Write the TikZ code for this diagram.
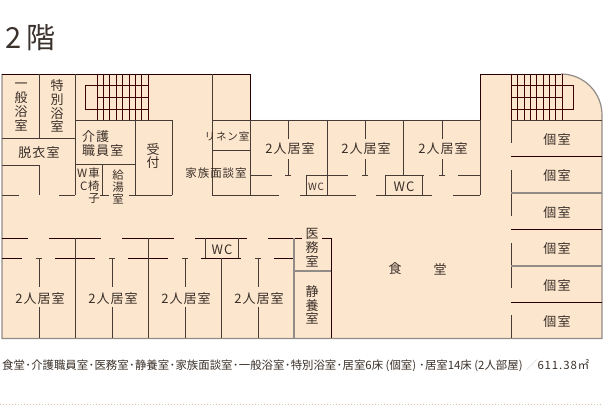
\documentclass[tikz,border=0pt]{standalone}
\usepackage{fontspec}
\setmainfont[LetterSpace=8]{Noto Sans CJK JP}
\newfontfamily\capfont{Noto Sans CJK JP}
\definecolor{floor}{HTML}{FDE6CE}
\definecolor{ink}{HTML}{4A3F38}
\definecolor{letter}{HTML}{3A3029}
\definecolor{dots}{HTML}{D8C8A0}
\tikzstyle{wall}=[line width=0.9,draw=ink!95!black]
\tikzstyle{dark wall}=[line width=0.9,draw=black!85!red]
\tikzstyle{grey wall}=[line width=1.2,draw=ink!60!white]
\tikzstyle{stair}=[line width=0.7,draw=black!75!red]
\tikzstyle{room}=[inner sep=0,yshift=-1pt,text=letter,align=center,font=\fontsize{13}{13.8}\selectfont]
\tikzstyle{small room}=[room,font=\fontsize{11.5}{12.4}\selectfont]
\def\dotsep{\hspace{0.3pt}･\hspace{0.3pt}}
\def\lpar{\hspace{2.5pt}(}
\def\rpar{)\hspace{2.5pt}}

\begin{document}
\begin{tikzpicture}[x=1pt,y=-1pt]
	\useasboundingbox (0,0) rectangle (603,411);
	\def\top{74}   % top edge
	\def\mid{120}  % top of the middle wing
	\def\bot{338.5} % bottom edge

	% Floor
	\path[fill=floor] (2,\top) -- (250,\top) -- (250,\mid) -- (480,\mid) -- (480,\top) -- (561,\top)
		arc(-90:0:41) -- (602,\bot) -- (2,\bot) -- cycle;
	\draw[grey wall] (2,\top) -- (2,\bot) -- (602,\bot) -- (602,115) arc(0:-90:41);
	\draw[wall] (250,\mid) -- (480,\mid) -- (480,195);
	\draw[dark wall] (2,\top) -- (250,\top) -- (250,\mid);
	\draw[dark wall] (480,\mid) -- (480,\top) -- (561,\top);

	% Stairs
	\foreach \x in {97,103,109,116,122,129,135,141,148}
		\draw[stair] (\x,\top) -- (\x,\mid);
	\foreach \x in {511,517,524,530,536,543,549,555,562}
		\draw[stair] (\x,\top) -- (\x,\mid);
	\draw[stair] (148,85) -- (85,85) -- (85,109) -- (148,109);
	\draw[stair] (97,97) -- (148,97);
	\draw[stair] (511,85) -- (573,85) -- (573,109) -- (511,109);
	\draw[stair] (511,97) -- (562,97);

	% Bath rooms and staff rooms
	\draw[wall] (39,\top) -- (39,138) (2,138) -- (75,138) (75,\top) -- (75,195);
	\draw[wall] (2,165) -- (39,165) -- (39,195) (2,195) -- (19,195) (59,195) -- (75,195);
	\draw[wall] (75,\mid) -- (172,\mid) -- (172,195) (135,\mid) -- (135,195);
	\draw[wall] (75,164) -- (135,164) (102,164) -- (102,195);
	\draw[wall] (100,195) -- (109,195) (129,195) -- (172,195);

	% Linen room
	\draw[wall] (212,\top) -- (212,195) (212,\mid) -- (250,\mid) (212,150) -- (250,150);
	\draw[wall] (250,\mid) -- (250,195) (212,195) -- (279,195);

	% Upper rooms
	\foreach \x in {288,365,442} {
		\draw[wall] (\x,\mid) -- (\x,139) (\x,159) -- (\x,175);
		\draw[wall] (\x-3,175) -- (\x+3,175);
	}
	\draw[wall] (327,\mid) -- (327,195) (403,\mid) -- (403,175);
	\draw[wall] (250,175) -- (272,175) (306,175) -- (348,175) (385,175) -- (424,175) (458,175) -- (480,175);
	\draw[wall] (306,175) -- (306,195) (385,175) -- (385,195) (422,175) -- (422,195);
	\draw[wall] (300,195) -- (356,195) (376,195) -- (432,195) (453,195) -- (480,195);

	% Single rooms
	\draw[wall] (511,\mid) -- (602,\mid);
	\draw[wall] (511,\mid) -- (511,143) (511,170) -- (511,216) (511,243) -- (511,288) (511,315) -- (511,\bot);
	\draw[dark wall] (511,156) -- (602,156) (511,229) -- (602,229) (511,302) -- (602,302);
	\draw[grey wall] (511,193) -- (602,193) (511,266) -- (602,266);

	% Lower rooms
	\draw[dark wall] (2,238) -- (28,238) (49,238) -- (101,238) (122,238) -- (174,238) (195,238) -- (247,238) (268,238) -- (302,238) (322,238) -- (331,238);
	\draw[dark wall] (2,258) -- (22,258) (55,258) -- (95,258) (128,258) -- (168,258) (201,258) -- (241,258) (274,258) -- (294,258);
	\foreach \x in {39,112,185,258} {
		\draw[wall] (\x,258) -- (\x,287) (\x,307) -- (\x,\bot);
		\draw[wall] (\x-3,258) -- (\x+3,258);
	}
	\foreach \x in {75,148}
		\draw[wall] (\x,238) -- (\x,\bot);
	\draw[wall] (221,258) -- (221,\bot);
	\draw[wall] (205,238) -- (205,258) (238,238) -- (238,258);
	\draw[grey wall] (294,238) -- (294,\bot) (294,271) -- (331,271);
	\draw[dark wall] (331,238) -- (331,\bot);

	% Labels
	\node[room] (bath) at (21,106) {一\\般\\浴\\室};
	\node[room] (special) at (57,105) {特\\別\\浴\\室};
	\node[room] (undress) at (39,152) {脱衣室};
	\node[room,align=left,anchor=west] (care) at (82,142.5) {介護\\職員室};
	\node[room] (desk) at (153,155) {受\\付};
	\node[small room,align=right] (wheel) at (88.5,185) {W車\\C椅\\子};
	\node[small room] (hot) at (118,186) {給\\湯\\室};
	\node[small room,font=\fontsize{10.5}{11}\selectfont] (linen) at (227,135.5) {リネン室};
	\node[small room] (family) at (216,172) {家族面談室};
	\node[room] (two a) at (290,148) {2人居室};
	\node[room] (two b) at (366,148) {2人居室};
	\node[room] (two c) at (443,148) {2人居室};
	\node[room,font=\fontsize{10}{11}\selectfont] (wc a) at (316,186) {WC};
	\node[room] (wc b) at (404,186) {WC};
	\node[room] (wc c) at (222,249) {WC};
	\node[room] (doctor) at (312,247) {医\\務\\室};
	\node[room] (rest) at (312,304) {静\\養\\室};
	\node[room] (din a) at (395,268) {食};
	\node[room] (din b) at (440,268) {堂};
	\foreach \y/\n in {139/a,175/b,212/c,248/d,285/e,321/f}
		\node[room] (single \n) at (557,\y) {個室};
	\foreach \x/\n in {40/d,113/e,186/f,259/g}
		\node[room] (two \n) at (\x,298) {2人居室};

	% Title and caption
	\node[anchor=west,inner sep=0,text=ink!80!black,font=\capfont\fontsize{29}{30}\selectfont] (title) at (5,38) {2\hspace{5pt}階};
	\node[anchor=west,inner sep=0,text=letter,font=\capfont\fontsize{11.4}{12}\selectfont] (caption) at (2,366)
		{食堂\dotsep 介護職員室\dotsep 医務室\dotsep 静養室\dotsep 家族面談室\dotsep 一般浴室\dotsep 特別浴室\dotsep 居室6床\lpar 個室\rpar\dotsep 居室14床\lpar 2人部屋\rpar{\color{ink!30!white}\hspace{1pt}／}{\rmfamily 611.38㎡}};
	\draw[line width=0.7,dash pattern=on 0.8pt off 2.2pt,draw=dots] (0,404) -- (603,404);
\end{tikzpicture}
\end{document}
